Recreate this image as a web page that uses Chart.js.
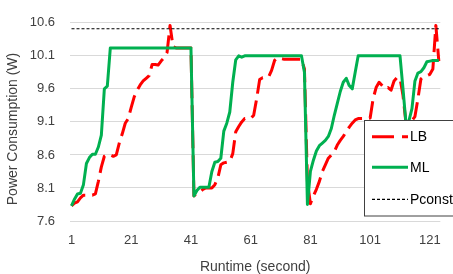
<!DOCTYPE html>
<html>
<head>
<meta charset="utf-8">
<script src="https://cdn.jsdelivr.net/npm/chart.js@4.4.1/dist/chart.umd.min.js"></script>
<style>
  html,body{margin:0;padding:0;background:#fff;}
  #wrap{width:453px;height:274px;position:relative;}
</style>
</head>
<body>
<div id="wrap"><canvas id="grafico"></canvas></div>
<script>
// ─── DATA ────────────────────────────────────────────────────────────────────
const runtime = Array.from({length: 124}, (_, i) => String(i + 1));
const xTickLabels = ["1", "21", "41", "61", "81", "101", "121"];
const yTicks = [7.6, 8.1, 8.6, 9.1, 9.6, 10.1, 10.6];

const lb = [
  7.83, 7.87, 7.89, 7.95, 7.99, 7.99, 7.99, 7.99, 8.01, 8.20,
  8.42, 8.58, 8.61, 8.60, 8.58, 8.60, 8.78, 8.92, 9.08, 9.15,
  9.32, 9.48, 9.58, 9.66, 9.72, 9.76, 9.80, 9.97, 9.97, 9.96,
  10.02, 10.07, 10.15, 10.56, 10.24, 10.22, 10.22, 10.22, 10.22, 10.22,
  10.22, 7.98, 8.02, 8.04, 8.08, 8.10, 8.10, 8.10, 8.15, 8.25,
  8.45, 8.48, 8.49, 8.50, 8.62, 8.95, 9.03, 9.10, 9.15, 9.15,
  9.15, 9.20, 9.45, 9.74, 9.77, 9.77, 9.78, 9.88, 10.03, 10.07,
  10.06, 10.05, 10.05, 10.05, 10.05, 10.05, 10.05, 10.05, 9.90, 8.20,
  7.86, 7.98, 8.08, 8.20, 8.35, 8.45, 8.55, 8.60, 8.65, 8.75,
  8.82, 8.88, 8.95, 9.02, 9.08, 9.13, 9.15, 9.15, 9.15, 9.15,
  9.16, 9.45, 9.62, 9.70, 9.65, 9.60, 9.62, 9.58, 9.72, 9.77,
  9.76, 9.50, 9.08, 9.10, 9.12, 9.18, 9.45, 9.75, 9.79, 9.80,
  9.82, 9.90, 10.56, 10.02
];

const ml = [
  7.83, 7.93, 8.01, 8.02, 8.15, 8.47, 8.56, 8.61, 8.61, 8.72,
  8.90, 9.60, 9.64, 10.22, 10.22, 10.22, 10.22, 10.22, 10.22, 10.22,
  10.22, 10.22, 10.22, 10.22, 10.22, 10.22, 10.22, 10.22, 10.22, 10.22,
  10.22, 10.22, 10.22, 10.22, 10.22, 10.22, 10.22, 10.22, 10.22, 10.22,
  10.22, 7.98, 8.06, 8.11, 8.11, 8.11, 8.11, 8.35, 8.49, 8.50,
  8.55, 8.96, 9.08, 9.25, 9.70, 10.04, 10.10, 10.08, 10.10, 10.10,
  10.10, 10.10, 10.10, 10.10, 10.10, 10.10, 10.10, 10.10, 10.10, 10.10,
  10.10, 10.10, 10.10, 10.10, 10.10, 10.10, 10.10, 10.10, 9.85, 7.85,
  8.35, 8.52, 8.66, 8.74, 8.78, 8.82, 8.88, 9.00, 9.20, 9.38,
  9.56, 9.70, 9.76, 9.65, 9.60, 9.85, 10.10, 10.10, 10.10, 10.10,
  10.10, 10.10, 10.10, 10.10, 10.10, 10.10, 10.10, 10.10, 10.10, 10.10,
  10.10, 9.60, 9.08, 9.12, 9.30, 9.72, 9.84, 9.86, 9.92, 10.01,
  10.02, 10.03, 10.03, 10.03
];

const pconst = 10.51;

const FONT = "'Liberation Sans', Arial, sans-serif";
const TXT = "#404040";

// legenda desenhada por cima da área do gráfico (como no Excel)
const legendaBox = {
  id: "legendaBox",
  afterDraw(chart){
    const ctx = chart.ctx;
    ctx.save();
    ctx.fillStyle = "#fff";
    ctx.fillRect(364.5, 120.5, 100, 95.5);
    ctx.strokeStyle = "#404040";
    ctx.lineWidth = 1;
    ctx.strokeRect(364.5, 120.5, 100, 95.5);

    const items = [
      { txt: "LB",     y: 136.7, color: "#ff0000", w: 3,   dash: [22, 8] },
      { txt: "ML",     y: 167.3, color: "#00b050", w: 3,   dash: [] },
      { txt: "Pconst", y: 199.3, color: "#000",    w: 1.2, dash: [3, 2] }
    ];
    items.forEach(it => {
      ctx.beginPath();
      ctx.setLineDash(it.dash);
      ctx.strokeStyle = it.color;
      ctx.lineWidth = it.w;
      ctx.moveTo(372, it.y);
      ctx.lineTo(408, it.y);
      ctx.stroke();
      ctx.setLineDash([]);
      ctx.fillStyle = "#000";
      ctx.font = "14px " + FONT;
      ctx.textAlign = "left";
      ctx.textBaseline = "middle";
      ctx.fillText(it.txt, 410, it.y + 0.5);
    });

    // título do eixo Y
    ctx.translate(13, 129);
    ctx.rotate(-Math.PI / 2);
    ctx.fillStyle = TXT;
    ctx.font = "14px " + FONT;
    ctx.textAlign = "center";
    ctx.textBaseline = "middle";
    ctx.fillText("Power Consumption (W)", 0, 0);
    ctx.restore();
  }
};

new Chart(document.getElementById("grafico"), {
  type: "line",
  data: {
    labels: runtime,
    datasets: [
      { label: "LB", data: lb, order: 3, borderColor: "#ff0000", borderWidth: 3,
        borderDash: [18, 7], borderJoinStyle: "round", pointRadius: 0, tension: 0, fill: false },
      { label: "ML", data: ml, order: 2, borderColor: "#00b050", borderWidth: 3,
        borderJoinStyle: "round", pointRadius: 0, tension: 0, fill: false },
      { label: "Pconst", data: [{x: "1", y: pconst}, {x: "124", y: pconst}], order: 1,
        borderColor: "#000", borderWidth: 1.2, borderDash: [3, 2], pointRadius: 0, tension: 0, fill: false }
    ]
  },
  options: {
    responsive: true, maintainAspectRatio: false, animation: false,
    layout: { padding: { top: 10, right: 10, left: 0, bottom: 0 } },
    plugins: { legend: { display: false }, tooltip: { enabled: false } },
    scales: {
      x: {
        type: "category", offset: true,
        grid: { display: false, drawTicks: false },
        border: { display: false },
        ticks: {
          autoSkip: false, maxRotation: 0, padding: 12, color: TXT,
          font: { family: FONT, size: 13 },
          callback: (v, i) => xTickLabels.includes(runtime[i]) ? runtime[i] : null
        },
        title: { display: true, text: "Runtime (second)", color: TXT,
          font: { family: FONT, size: 14, lineHeight: 1 }, padding: { top: 0, bottom: 0 } },
        afterFit: s => { s.height = 53; }
      },
      y: {
        min: 7.6, max: 10.6,
        afterBuildTicks: s => { s.ticks = yTicks.map(v => ({ value: v })); },
        grid: { color: "#d9d9d9", lineWidth: 1, drawTicks: false },
        border: { display: false },
        ticks: { padding: 15, color: TXT, font: { family: FONT, size: 13 },
          callback: v => Number(v).toFixed(1) },
        afterFit: s => { s.width = 70; }
      }
    }
  },
  plugins: [legendaBox]
});
</script>
</body>
</html>
